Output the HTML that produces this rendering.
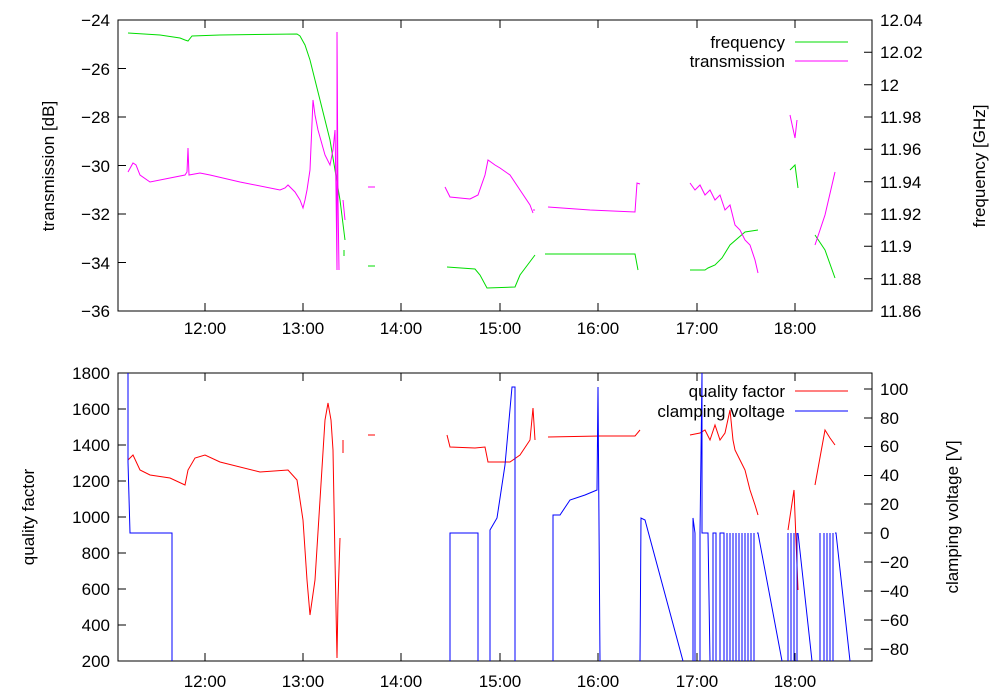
<!DOCTYPE html>
<html><head><meta charset="utf-8"><style>
body{margin:0;background:#fff}
svg{display:block;font-family:"Liberation Sans",sans-serif;font-size:17px}
</style></head><body>
<svg width="1000" height="700" viewBox="0 0 1000 700">
<g fill="none" stroke-width="1">
<rect x="118" y="20" width="754" height="291" stroke="#000"/>
<g stroke="#000">
<path d="M118 20h8M118 68.5h8M118 117h8M118 165.5h8M118 214h8M118 262.5h8M872 20h-8M872 52.3h-8M872 84.7h-8M872 117h-8M872 149.3h-8M872 181.7h-8M872 214h-8M872 246.3h-8M872 278.7h-8"/>
<path d="M205 311v-8M303 311v-8M401 311v-8M500 311v-8M598 311v-8M697 311v-8M795 311v-8M205 20v8M303 20v8M401 20v8M500 20v8M598 20v8M697 20v8M795 20v8"/>
</g>
<polyline stroke="#00dd00" points="128,33 160,35 180,38 185,40 188,41 192,36 220,35 297,34 300,36 305,45 310,60 315,80 320,100 325,120 330,140 335,170 340,200 345,240"/>
<path stroke="#00dd00" d="M344 250v6M368 266h7M447 267L475 269L480 275L487 288L515 287L520 275L535 255M545 254L635 254L638 270M690 270L705 270L708 268L715 265L722 258L730 245L745 232L758 230M790 170L795 165L798 188M815 235L825 250L835 278"/>
<polyline stroke="#ff00ff" points="128,172 133,163 136,165 140,175 150,182 170,178 185,175 187,172 188,148 189,175 200,173 210,175 240,182 280,190 285,188 288,185 295,192 300,200 303,208 305,200 307,190 310,170 313,100 315,115 318,130 325,155 330,165 333,150 335,130 336,190 337,270 337,32 338,200 339,270"/>
<path stroke="#ff00ff" d="M343 200L345 220M368 187h7M445 187L450 197L470 199L478 195L485 175L488 160L495 165L500 168L510 175L520 190L530 205L533 213M533 210h2M548 207L590 210L635 212L637 183L640 184M690 183L695 190L700 185L705 195L710 190L715 200L720 195L725 210L730 205L735 225L740 230L745 240L750 245L755 260L758 273M790 115L795 138L797 120M815 245L825 215L835 172"/>
<text x="785" y="48" text-anchor="end" fill="#000" stroke="none">frequency</text>
<text x="785" y="67" text-anchor="end" fill="#000" stroke="none">transmission</text>
<path stroke="#00dd00" d="M795 42h53"/>
<path stroke="#ff00ff" d="M795 61h53"/>

<rect x="118" y="373" width="754" height="288" stroke="#000"/>
<g stroke="#000">
<path d="M118 409h8M118 445h8M118 481h8M118 517h8M118 553h8M118 589h8M118 625h8"/>
<path d="M872 389h-8M872 418h-8M872 446.5h-8M872 475.5h-8M872 504h-8M872 533h-8M872 562h-8M872 591h-8M872 620h-8M872 649h-8"/>
<path d="M205 661v-8M303 661v-8M401 661v-8M500 661v-8M598 661v-8M697 661v-8M795 661v-8M205 373v8M303 373v8M401 373v8M500 373v8M598 373v8M697 373v8M795 373v8"/>
</g>
<polyline stroke="#ff0000" points="128,460 133,455 140,470 150,475 170,478 185,485 188,470 195,458 205,455 220,462 260,472 288,470 297,480 300,500 303,520 307,580 310,615 315,580 320,500 325,420 328,403 331,420 333,450 335,560 337,658 338,600 340,538"/>
<path stroke="#ff0000" d="M343 440v13M368 435h7M447 435L450 447L475 448L485 447L488 462L510 462L520 455L530 440L533 408L535 440M548 437L600 436L635 436L640 430M690 435L700 433L705 430L710 440L715 425L720 440L725 433L730 410L733 440L735 450L740 460L745 470L750 490L755 505L758 515M788 530L794 490L798 590M815 485L825 430L830 438L835 445"/>
<path stroke="#0000ff" d="M128 373V462L130 533H172V661M450 661V533H478V661M490 661V530L497 518L505 465L512 387H515V661M553 661V515H560L570 500L585 495L597 490L598 387L600 661M640 661L641 518L645 520L683 661M693 661V518L695 533V661M700 661V533L702 373V533L708 533L710 661M713 661V533L716 533V661M720 661V533H724V661M727 661V533M730 533V661M733 533V661M736 533V661M739 533V661M742 533V661M745 533V661M748 533V661M751 533V661M754 533V661M757 533H758L782 661M788 661V533M791 533V661M794 533V661M797 533V661M798 533L812 661M820 661V533M824 533V661M827 533V661M830 533V661M833 533V661M835 533H836L850 661"/>
<text x="785" y="397" text-anchor="end" fill="#000" stroke="none">quality factor</text>
<text x="785" y="417" text-anchor="end" fill="#000" stroke="none">clamping voltage</text>
<path stroke="#ff0000" d="M795 391h53"/>
<path stroke="#0000ff" d="M795 411h53"/>
</g>
<g fill="#000">
<g text-anchor="end">
<text x="110" y="26">−24</text><text x="110" y="75">−26</text><text x="110" y="123">−28</text><text x="110" y="172">−30</text><text x="110" y="220">−32</text><text x="110" y="269">−34</text><text x="110" y="317">−36</text>
<text x="110" y="379">1800</text><text x="110" y="415">1600</text><text x="110" y="451">1400</text><text x="110" y="487">1200</text><text x="110" y="523">1000</text><text x="110" y="559">800</text><text x="110" y="595">600</text><text x="110" y="631">400</text><text x="110" y="667">200</text>
</g>
<g text-anchor="start">
<text x="880" y="26">12.04</text><text x="880" y="58">12.02</text><text x="880" y="91">12</text><text x="880" y="123">11.98</text><text x="880" y="155">11.96</text><text x="880" y="188">11.94</text><text x="880" y="220">11.92</text><text x="880" y="252">11.9</text><text x="880" y="285">11.88</text><text x="880" y="317">11.86</text>
<text x="880" y="395">100</text><text x="880" y="424">80</text><text x="880" y="452">60</text><text x="880" y="481">40</text><text x="880" y="510">20</text><text x="880" y="539">0</text><text x="880" y="568">−20</text><text x="880" y="597">−40</text><text x="880" y="626">−60</text><text x="880" y="655">−80</text>
</g>
<g text-anchor="middle">
<text x="205" y="334">12:00</text><text x="303" y="334">13:00</text><text x="401" y="334">14:00</text><text x="500" y="334">15:00</text><text x="598" y="334">16:00</text><text x="697" y="334">17:00</text><text x="795" y="334">18:00</text>
<text x="205" y="687">12:00</text><text x="303" y="687">13:00</text><text x="401" y="687">14:00</text><text x="500" y="687">15:00</text><text x="598" y="687">16:00</text><text x="697" y="687">17:00</text><text x="795" y="687">18:00</text>
<text transform="translate(54,166) rotate(-90)">transmission [dB]</text>
<text transform="translate(985,166) rotate(-90)">frequency [GHz]</text>
<text transform="translate(34,517) rotate(-90)">quality factor</text>
<text transform="translate(958,517) rotate(-90)">clamping voltage [V]</text>
</g>
</g>
</svg>
</body></html>
